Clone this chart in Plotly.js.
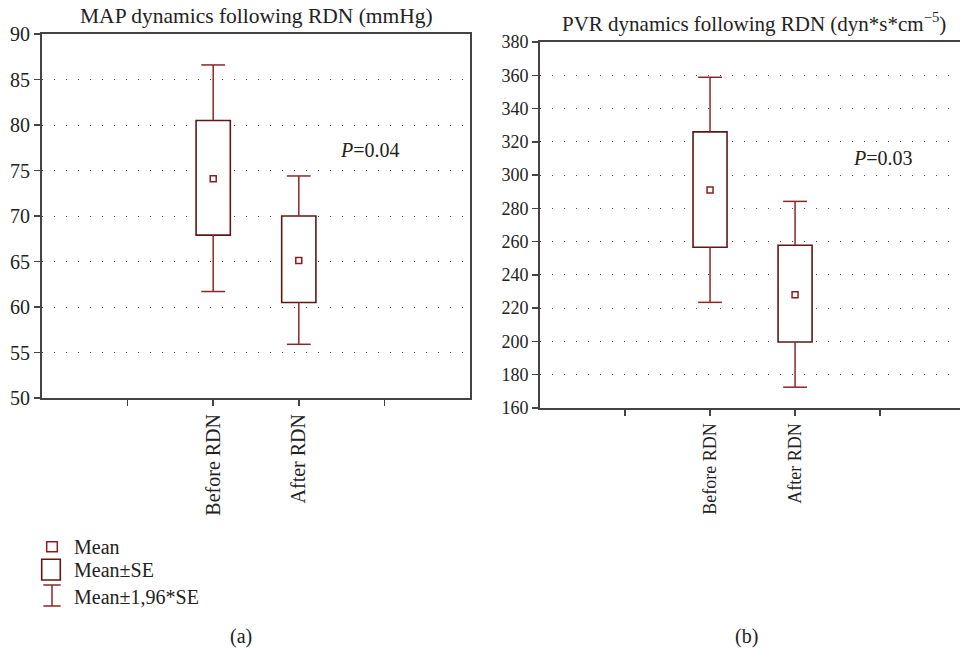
<!DOCTYPE html>
<html>
<head>
<meta charset="utf-8">
<script src="https://cdn.plot.ly/plotly-3.0.1.min.js"></script>
<style>html,body{margin:0;padding:0;background:#fff;}#chart{width:960px;height:650px;}</style>
</head>
<body>
<div id="chart"></div>
<script>
// ---- data ----
const groups = ['Before RDN', 'After RDN'];
const axisSlots = ['\u2009', 'Before RDN', 'After RDN', '\u2009\u2009'];

const mapMean   = [74.1, 65.1];
const mapSeLow  = [67.9, 60.5];
const mapSeHigh = [80.5, 70.0];
const mapCiLow  = [61.7, 55.9];
const mapCiHigh = [86.6, 74.4];

const pvrMean   = [291.0, 228.1];
const pvrSeLow  = [256.6, 199.7];
const pvrSeHigh = [326.0, 257.8];
const pvrCiLow  = [223.5, 172.5];
const pvrCiHigh = [358.8, 284.2];

const legendLabels = ['Mean', 'Mean\u00b1SE', 'Mean\u00b11,96*SE'];
const pLabels = ['<i>P</i>=0.04', '<i>P</i>=0.03'];
const titles = ['MAP dynamics following RDN (mmHg)', 'PVR dynamics following RDN (dyn*s*cm<sup>\u22125</sup>)'];
const captions = ['(a)', '(b)'];

// ---- styles ----
const FONT = 'Liberation Serif, Times New Roman, serif';
const BOX_COL = '#5e1717';
const WH_COL = '#8e2626';
const MEAN_COL = '#8e1c1c';
const W = 960, H = 650;
const px = x => x / W;
const py = y => 1 - y / H;

function panelTraces(mean, seLo, seHi, ciLo, ciHi, xa, ya) {
  const wx = [], wy = [];
  groups.forEach((g, i) => {
    wx.push(g, g, null, g, g, null);
    wy.push(seHi[i], ciHi[i], null, seLo[i], ciLo[i], null);
  });
  return [
    { type: 'bar', x: groups, base: seLo, y: seHi.map((v, i) => v - seLo[i]), width: 0.4,
      marker: { color: '#ffffff', line: { color: BOX_COL, width: 1.6 } },
      xaxis: xa, yaxis: ya, hoverinfo: 'skip', showlegend: false },
    { type: 'scatter', mode: 'lines', x: wx, y: wy, connectgaps: false,
      line: { color: WH_COL, width: 1.5 }, xaxis: xa, yaxis: ya, hoverinfo: 'skip', showlegend: false },
    { type: 'scatter', mode: 'markers', x: groups.concat(groups), y: ciHi.concat(ciLo),
      marker: { symbol: 'line-ew', size: 17, line: { color: WH_COL, width: 1.5 } },
      xaxis: xa, yaxis: ya, hoverinfo: 'skip', showlegend: false },
    { type: 'scatter', mode: 'markers', x: groups, y: mean,
      marker: { symbol: 'square-open', size: 6, color: MEAN_COL, line: { width: 1.5 } },
      xaxis: xa, yaxis: ya, hoverinfo: 'skip', showlegend: false }
  ];
}

const data = panelTraces(mapMean, mapSeLow, mapSeHigh, mapCiLow, mapCiHigh, 'x', 'y')
  .concat(panelTraces(pvrMean, pvrSeLow, pvrSeHigh, pvrCiLow, pvrCiHigh, 'x2', 'y2'));

function xAxis(domain, range, size) {
  return {
    domain: domain, type: 'category', categoryorder: 'array', categoryarray: axisSlots,
    range: range, showline: true, linecolor: '#444', linewidth: 2, mirror: true,
    ticks: 'outside', ticklen: 6, tickwidth: 1.5, tickcolor: '#444', tickangle: -90,
    showgrid: false, zeroline: false, fixedrange: true,
    tickfont: { family: FONT, size: size, color: '#222' }
  };
}
function yAxis(domain, range, dtick, size, anchor) {
  return {
    domain: domain, range: range, dtick: dtick, tick0: range[0], anchor: anchor,
    showline: true, linecolor: '#444', linewidth: 2, mirror: true,
    ticks: 'outside', ticklen: 6, tickwidth: 1.5, tickcolor: '#444',
    showgrid: true, gridcolor: '#444', gridwidth: 1, griddash: '1px,11px',
    zeroline: false, fixedrange: true,
    tickfont: { family: FONT, size: size, color: '#222' }
  };
}

const shapes = [
  { type: 'rect', xref: 'paper', yref: 'paper', x0: px(46.7), x1: px(57.3), y0: py(551.7), y1: py(541.7),
    line: { color: MEAN_COL, width: 1.5 } },
  { type: 'rect', xref: 'paper', yref: 'paper', x0: px(41.7), x1: px(60.3), y0: py(580), y1: py(559.3),
    line: { color: BOX_COL, width: 1.6 } },
  { type: 'line', xref: 'paper', yref: 'paper', x0: px(52), x1: px(52), y0: py(585), y1: py(606),
    line: { color: WH_COL, width: 1.5 } },
  { type: 'line', xref: 'paper', yref: 'paper', x0: px(43.3), x1: px(60.7), y0: py(585), y1: py(585),
    line: { color: WH_COL, width: 1.5 } },
  { type: 'line', xref: 'paper', yref: 'paper', x0: px(43.3), x1: px(60.7), y0: py(606), y1: py(606),
    line: { color: WH_COL, width: 1.5 } }
];

const txt = (s, extra) => Object.assign({ showarrow: false, font: { family: FONT, size: 20, color: '#222' }, text: s }, extra);

const annotations = [
  txt(titles[0], { xref: 'paper', yref: 'paper', x: px(256), y: py(16), xanchor: 'center', yanchor: 'middle', font: { family: FONT, size: 21.5, color: '#222' } }),
  txt(titles[1], { xref: 'paper', yref: 'paper', x: px(754), y: py(22), xanchor: 'center', yanchor: 'middle', font: { family: FONT, size: 21, color: '#222' } }),
  txt(pLabels[0], { xref: 'x', yref: 'y', x: 2.83, y: 77.3, xanchor: 'center', yanchor: 'middle' }),
  txt(pLabels[1], { xref: 'x2', yref: 'y2', x: 3.04, y: 310.5, xanchor: 'center', yanchor: 'middle' }),
  txt(legendLabels[0], { xref: 'paper', yref: 'paper', x: px(72), y: py(546.5), xanchor: 'left', yanchor: 'middle' }),
  txt(legendLabels[1], { xref: 'paper', yref: 'paper', x: px(72), y: py(570), xanchor: 'left', yanchor: 'middle' }),
  txt(legendLabels[2], { xref: 'paper', yref: 'paper', x: px(72), y: py(597), xanchor: 'left', yanchor: 'middle' }),
  txt(captions[0], { xref: 'paper', yref: 'paper', x: px(241), y: py(636), xanchor: 'center', yanchor: 'middle' }),
  txt(captions[1], { xref: 'paper', yref: 'paper', x: px(746), y: py(636), xanchor: 'center', yanchor: 'middle' })
];

const layout = {
  width: W, height: H,
  margin: { l: 0, r: 0, t: 0, b: 0 },
  paper_bgcolor: '#ffffff', plot_bgcolor: '#ffffff',
  showlegend: false, barmode: 'overlay',
  xaxis: xAxis([px(42), px(470)], [-1, 4], 20),
  yaxis: yAxis([py(398), py(34)], [50, 90], 5, 20, 'x'),
  xaxis2: Object.assign(xAxis([px(540), 1], [-1, 3.94], 18), { anchor: 'y2' }),
  yaxis2: yAxis([py(408), py(42)], [160, 380], 20, 18, 'x2'),
  shapes: shapes,
  annotations: annotations
};

Plotly.newPlot('chart', data, layout, { displayModeBar: false, staticPlot: true });
</script>
</body>
</html>
